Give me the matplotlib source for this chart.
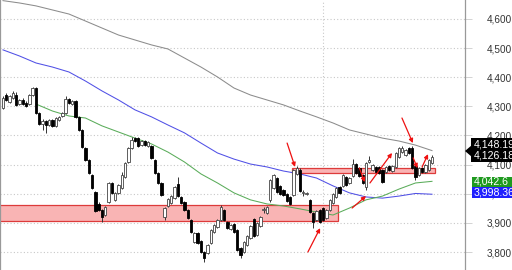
import matplotlib
matplotlib.use('Agg')
import matplotlib.pyplot as plt
from matplotlib.patches import Rectangle, Polygon
from matplotlib.ticker import FuncFormatter, FixedLocator
from matplotlib.transforms import IdentityTransform

# ---------------- data ----------------
opens = [4294, 4339, 4315, 4329, 4339, 4308, 4322, 4312, 4308, 4339,
         4363, 4277, 4239, 4250, 4236, 4253, 4233, 4253, 4267, 4277,
         4325, 4308, 4318, 4264, 4219, 4157, 4116, 4064, 4006, 3965,
         3944, 3927, 3972, 4037, 3979, 4003, 4020, 4058, 4109, 4157,
         4191, 4191, 4167, 4181, 4164, 4164, 4116, 4071, 4037, 3920,
         3958, 3968, 3985, 4033, 3989, 3972, 3944, 3910, 3834, 3865,
         3838, 3800, 3797, 3831, 3869, 3886, 3910, 3944, 3903, 3879,
         3896, 3876, 3814, 3800, 3824, 3848, 3913, 3858, 3889, 3944,
         3934, 3979, 4020, 4054, 4027, 4013, 3999, 3989, 3996, 4068,
         4082, 4003, 3999, 3979, 3934, 3910, 3944, 3951, 3917, 3944,
         3968, 3989, 4023, 4027, 4058, 4037, 4061, 4102, 4088, 4064,
         4023, 4109, 4082, 4092, 4092, 4082, 4075, 4095, 4078, 4092,
         4126, 4143, 4133, 4157, 4157, 4095, 4064, 4088, 4075, 4082,
         4106]
closes = [4329, 4322, 4336, 4346, 4305, 4322, 4308, 4301, 4339, 4363,
          4277, 4239, 4250, 4236, 4253, 4233, 4260, 4264, 4277, 4325,
          4312, 4318, 4264, 4219, 4160, 4116, 4071, 4020, 3941, 3944,
          3920, 3955, 4037, 4003, 4003, 4030, 4064, 4106, 4157, 4185,
          4181, 4164, 4181, 4167, 4178, 4123, 4071, 4037, 3996, 3951,
          3982, 3992, 4023, 3992, 3968, 3944, 3917, 3869, 3865, 3831,
          3800, 3779, 3824, 3876, 3893, 3910, 3955, 3910, 3882, 3893,
          3869, 3807, 3790, 3834, 3855, 3889, 3855, 3900, 3920, 3948,
          3955, 4047, 4064, 4006, 3999, 3996, 3975, 3965, 4082, 4088,
          4009, 4006, 4003, 3937, 3903, 3941, 3903, 3910, 3944, 3979,
          3999, 4020, 4003, 4064, 4030, 4054, 4102, 4071, 4061, 4037,
          4106, 4116, 4099, 4075, 4071, 4040, 4092, 4082, 4095, 4140,
          4157, 4157, 4150, 4140, 4088, 4058, 4088, 4075, 4099, 4116,
          4126.18]
highs = [4335, 4345, 4340, 4352, 4348, 4326, 4328, 4318, 4342, 4368,
         4366, 4280, 4255, 4254, 4257, 4257, 4264, 4268, 4281, 4336,
         4330, 4322, 4322, 4267, 4222, 4160, 4119, 4067, 4010, 3970,
         3948, 3958, 4040, 4042, 4006, 4033, 4075, 4109, 4160, 4195,
         4195, 4195, 4185, 4185, 4181, 4167, 4119, 4075, 4040, 3955,
         3985, 3996, 4027, 4058, 3992, 3975, 3948, 3913, 3869, 3869,
         3841, 3803, 3827, 3879, 3896, 3913, 3960, 3948, 3906, 3896,
         3900, 3879, 3817, 3838, 3858, 3893, 3917, 3903, 3924, 3955,
         3958, 4050, 4068, 4058, 4030, 4016, 4003, 3992, 4085, 4095,
         4088, 4013, 4006, 3982, 3937, 3944, 3948, 3955, 3948, 3982,
         4003, 4023, 4027, 4068, 4061, 4058, 4120, 4106, 4092, 4068,
         4109, 4130, 4102, 4095, 4095, 4085, 4095, 4099, 4099, 4143,
         4160, 4164, 4154, 4160, 4164, 4099, 4092, 4092, 4102, 4120,
         4133]
lows = [4290, 4318, 4312, 4325, 4300, 4304, 4305, 4297, 4304, 4335,
        4273, 4235, 4219, 4209, 4232, 4229, 4229, 4250, 4263, 4274,
        4308, 4304, 4260, 4215, 4156, 4112, 4068, 4016, 3937, 3940,
        3903, 3923, 3968, 3999, 3975, 3999, 4016, 4054, 4106, 4154,
        4178, 4160, 4164, 4164, 4160, 4119, 4068, 4033, 3992, 3910,
        3955, 3965, 3982, 3989, 3965, 3941, 3913, 3865, 3831, 3827,
        3797, 3766, 3793, 3827, 3865, 3882, 3906, 3906, 3879, 3875,
        3865, 3803, 3779, 3797, 3820, 3845, 3851, 3855, 3886, 3934,
        3930, 3972, 4016, 4003, 3996, 3992, 3972, 3961, 3992, 4064,
        4006, 3992, 3996, 3934, 3882, 3906, 3900, 3906, 3913, 3941,
        3965, 3985, 3999, 4023, 4027, 4033, 4058, 4068, 4058, 4033,
        4013, 4106, 4078, 4071, 4068, 4037, 4071, 4078, 4075, 4088,
        4123, 4140, 4130, 4136, 4085, 4047, 4061, 4071, 4071, 4078,
        4102]

ma_idx = list(range(0, 131, 5))
ma_gray = [4663, 4655, 4645, 4631, 4617, 4593, 4569, 4545, 4528, 4511,
           4497, 4466, 4435, 4401, 4363, 4339, 4322, 4305, 4284, 4264,
           4243, 4219, 4205, 4191, 4181, 4167, 4148.19]
ma_blue = [4494, 4473, 4449, 4435, 4418, 4387, 4353, 4322, 4288, 4264,
           4236, 4209, 4174, 4140, 4119, 4102, 4092, 4078, 4068, 4054,
           4027, 4003, 3989, 3985, 3992, 4001, 3998.36]
green_idx = list(range(10, 131, 5))
ma_green = [4308, 4284, 4267, 4260, 4233, 4212, 4191, 4171, 4143, 4109,
            4068, 4037, 4003, 3979, 3965, 3958, 3948, 3937, 3927, 3951,
            3979, 3992, 4016, 4037, 4042.6]

# zones: (x start, x end, low price, high price)
zones = [(-5, 101.5, 3906, 3960), (87.6, 130.9, 4071, 4088)]
# arrows: ((x0, p0), (x1, p1))
arrows = [((86.1, 4174), (88.5, 4092)),
          ((92.4, 3800), (96.1, 3882)),
          ((105.8, 3951), (110.0, 3992)),
          ((108.0, 4088), (109.6, 4040)),
          ((111.2, 4037), (117.9, 4140)),
          ((120.9, 4260), (124.2, 4174)),
          ((124.3, 4123), (125.6, 4088)),
          ((127.0, 4092), (128.8, 4136))]

yticks = [3800, 3900, 4000, 4100, 4200, 4300, 4400, 4500, 4600]
vgrid = [97]

# ---------------- figure ----------------
plt.rcParams['font.family'] = ['Liberation Sans', 'DejaVu Sans']
fig = plt.figure(figsize=(5.12, 2.70), dpi=100)
ax = fig.add_axes([0, 0, 465 / 512, 1])
ax.set_xlim(-0.9, 140)
ax.set_ylim(3738.2, 4665.2)

grid_kw = dict(color='#c8c8c8', lw=0.8, linestyle=(0, (1, 2)), zorder=0)
for t in yticks:
    ax.axhline(t, **grid_kw)
for v in vgrid:
    ax.axvline(v, **grid_kw)

for x0, x1, lo, hi in zones:
    ax.add_patch(Rectangle((x0, lo), x1 - x0, hi - lo, facecolor='#f9b4b4',
                           edgecolor='#dd3b3b', lw=0.9, zorder=1))

ax.plot(ma_idx, ma_gray, color='#8c8c8c', lw=0.75, zorder=2)
ax.plot(ma_idx, ma_blue, color='#5050e6', lw=0.75, zorder=2)
ax.plot(green_idx, ma_green, color='#5aac5a', lw=0.75, zorder=2)

xs = list(range(len(closes)))
ax.vlines(xs, lows, highs, color='#333333', lw=0.7, zorder=3)
for i, (o, c) in enumerate(zip(opens, closes)):
    bottom = min(o, c)
    h = max(abs(c - o), 2.0)
    if c >= o:
        fc, ec = 'white', '#444444'
    else:
        fc, ec = 'black', 'black'
    ax.add_patch(Rectangle((i - 0.36, bottom), 0.72, h, facecolor=fc,
                           edgecolor=ec, lw=0.6, zorder=4))

for (x0, p0), (x1, p1) in arrows:
    ax.annotate('', xy=(x1, p1), xytext=(x0, p0),
                arrowprops=dict(arrowstyle='-|>', color='#ee1111', lw=0.9,
                                mutation_scale=6, shrinkA=0, shrinkB=0),
                zorder=6)

ax.yaxis.tick_right()
ax.yaxis.set_major_locator(FixedLocator(yticks))
ax.yaxis.set_major_formatter(FuncFormatter(lambda v, p: f'{v:,.0f}'))
ax.tick_params(axis='y', length=5, width=0.6, color='#cccccc', pad=10.5,
               labelsize=7.2, labelcolor='#333333')
ax.tick_params(axis='x', bottom=False, labelbottom=False)
for s in ['top', 'bottom']:
    ax.spines[s].set_visible(False)
for s in ['left', 'right']:
    ax.spines[s].set_color('#999999')
    ax.spines[s].set_linewidth(0.9)

# ---------------- right-side value labels (pixel layout) ----------------
H = 270
last_close = closes[-1]
idt = IdentityTransform()

def box(x0, ytop, x1, ybot, color):
    fig.add_artist(Rectangle((x0, H - ybot), x1 - x0, ybot - ytop,
                             facecolor=color, edgecolor='none',
                             transform=idt, zorder=10))

def label(x, yc, s):
    fig.text(x, H - yc, s, transform=idt, color='white', fontsize=7.6,
             va='center', ha='left', zorder=11)

box(471, 138, 520, 162, 'black')
fig.add_artist(Polygon([(465, H - 151), (472, H - 145), (472, H - 157)],
                       closed=True, facecolor='black', edgecolor='none',
                       transform=idt, zorder=10))
label(474, 144.5, f'{ma_gray[-1]:,.2f}')
label(474, 156, f'{last_close:,.2f}')
box(472, 176.5, 520, 187, '#1f9a1f')
label(474, 182, f'{ma_green[-1]:,.1f}')
box(472, 187, 520, 197.5, '#1f1fff')
label(474, 192.5, f'{ma_blue[-1]:,.2f}')

fig.savefig('out.png', dpi=100)
